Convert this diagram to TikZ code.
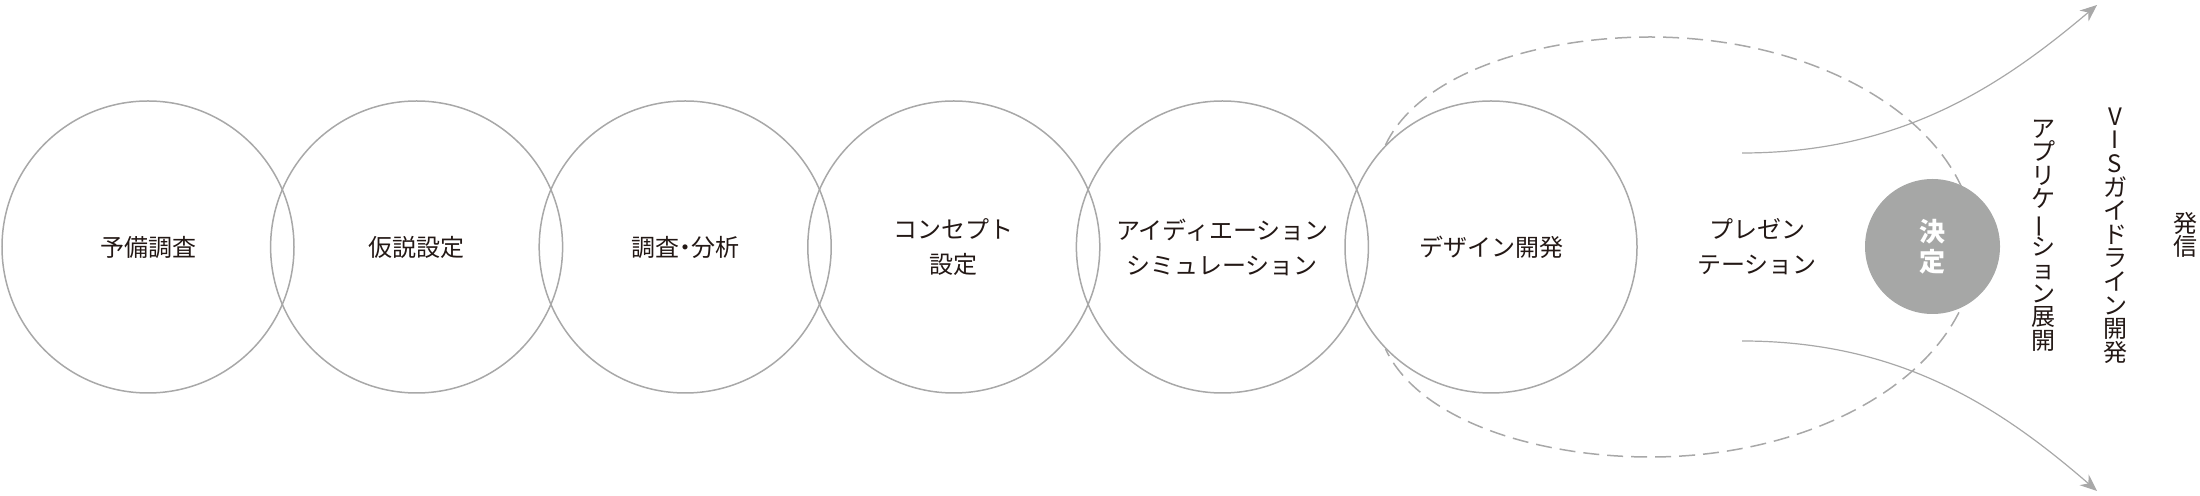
\documentclass[tikz,border=0pt]{standalone}
\usepackage{fontspec}
\usepackage{graphicx}
\newfontfamily\jpfont{Noto Sans CJK JP}
\usepackage{tikz}
\usetikzlibrary{shapes,arrows.meta,positioning}
\definecolor{linegray}{HTML}{A8A8A8}
\definecolor{fillgray}{HTML}{A6A7A6}
\definecolor{inkblack}{HTML}{231815}
\newcommand{\tatebar}{\rotatebox[origin=c]{90}{ー}}
\newcommand{\halfdot}{\makebox[0.5em]{・}}
\tikzset{
      stage/.style   = {circle, draw=linegray, line width=0.75pt, minimum size=146pt, inner sep=0pt,
                        align=center, text=inkblack, font={\jpfont\fontsize{12}{17.5}\selectfont}},
      decide/.style  = {circle, fill=fillgray, minimum size=67.5pt, inner sep=0pt,
                        align=center, text=white, font={\jpfont\bfseries\fontsize{13}{15}\selectfont}},
      plain/.style   = {align=center, text=inkblack, font={\jpfont\fontsize{12}{17.5}\selectfont}},
      tate/.style    = {align=center, text=inkblack, inner sep=0pt,
                        font={\jpfont\fontsize{12}{11.8}\selectfont\lineskiplimit=-20pt}},
      flow/.style    = {linegray, line width=0.6pt, -{Stealth[length=8.5pt,width=7pt]}},
      loopline/.style = {linegray, line width=0.75pt, dash pattern=on 8pt off 4pt},
    }

\begin{document}
\begin{tikzpicture}[x=0.5pt, y=0.5pt, node distance=134.3pt
    ]
    \useasboundingbox (0,-249) rectangle (2200,247);

    \node[stage] (prelim) at (148,0) {予備調査};
    \node[stage, right of=prelim] (hypo) {仮説設定};
    \node[stage, right of=hypo] (survey) {調査\halfdot 分析};
    \node[stage, right of=survey] (concept) {コンセプト\\設定};
    \node[stage, right of=concept] (idea) {アイディエーション\\シミュレーション};
    \node[stage, right of=idea] (design) {デザイン開発};

    \node[plain] (present) at (1757,0) {プレゼン\\テーション};

    \coordinate (upStart) at (1742,94);
    \coordinate (upEnd) at (2097,242);
    \coordinate (downStart) at (1742,-94);
    \coordinate (downEnd) at (2097,-244);

    \draw[loopline] (design.136) .. controls (1420,175) and (1540,210) .. (1650,210)
        arc[start angle=90, end angle=-90, x radius=325, y radius=210]
        .. controls (1540,-210) and (1420,-175) .. (design.224);

    \draw[flow] (upStart) .. controls (1900,94) and (2000,160) .. (upEnd);
    \draw[flow] (downStart) .. controls (1900,-94) and (2000,-160) .. (downEnd);

    \node[decide] (decision) at (1932.5,0.5) {決\\定};

    \node[tate] (apps) at (2043,11.5) {ア\\プ\\リ\\ケ\\\tatebar\\シ\\ョ\\ン\\展\\開};
    \node[tate] (guide) at (2115,11.5) {V\\I\\S\\ガ\\イ\\ド\\ラ\\イ\\ン\\開\\発};
    \node[tate] (publish) at (2185,12) {発\\信};
\end{tikzpicture}
\end{document}
